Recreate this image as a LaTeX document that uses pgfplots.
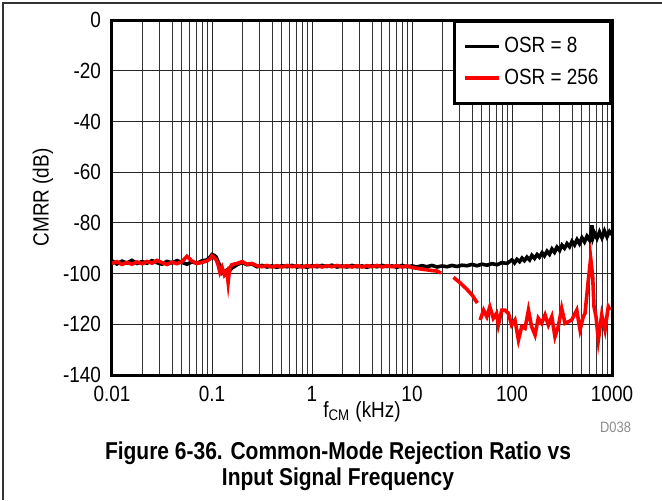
\documentclass[border=0pt]{standalone}
\usepackage{fontspec}
\setmainfont{Liberation Sans}[FakeStretch=0.86]
\usepackage{pgfplots}
\pgfplotsset{compat=1.18}
\definecolor{osrred}{RGB}{255,0,0}
\begin{document}
\begin{tikzpicture}
\path[use as bounding box] (-56pt,-62.5pt) rectangle (275pt,187.5pt);
\draw[line width=0.75pt, black!80] (-54.5pt,-62.5pt) -- (-54.5pt,186pt) -- (275pt,186pt);
\begin{axis}[
  at={(0,0)}, anchor=south west,
  scale only axis,
  width=250pt, height=177.5pt,
  xmode=log,
  xmin=0.01, xmax=1000,
  ymin=-140, ymax=0,
  xtick={0.01,0.1,1,10,100,1000},
  xticklabels={0.01,0.1,1,10,100,1000},
  ytick={-140,-120,-100,-80,-60,-40,-20,0},
  yticklabels={-140,-120,-100,-80,-60,-40,-20,0},
  major tick length=0pt, minor tick length=0pt,
  xmajorgrids, xminorgrids, ymajorgrids,
  major grid style={black!85, line width=0.5pt},
  minor grid style={black!80, line width=0.5pt},
  axis line style={line width=1.5pt},
  font=\fontsize{11}{13}\selectfont,
  /pgf/number format/assume math mode=true,
  xticklabel style={yshift=-2pt},
  yticklabel style={xshift=-2pt},
  xlabel={f\textsubscript{CM} (kHz)},
  ylabel={CMRR (dB)},
  xlabel style={at={(axis description cs:0.5,-0.104)}, anchor=center},
  ylabel style={at={(axis description cs:-0.138,0.5)}, anchor=center},
  unbounded coords=jump,
  legend cell align=left,
  legend image code/.code={\draw[#1] (0pt,0pt) -- (17pt,0pt);},
  legend style={at={(1,1)}, anchor=north east, draw=black, line width=1.5pt,
    inner xsep=4pt, inner ysep=6pt, row sep=2.5pt,
    font=\fontsize{11}{13}\selectfont},
]
\addplot[black, line width=1.8pt] coordinates {
(0.01,-95.0) (0.0112,-96.2) (0.0126,-95.1) (0.0141,-95.9) (0.0158,-94.8)
(0.0178,-96.0) (0.02,-95.3) (0.0224,-95.9) (0.0251,-94.9) (0.0282,-95.7)
(0.0316,-96.3) (0.0355,-95.2) (0.0398,-95.8) (0.0447,-94.9) (0.0501,-95.6)
(0.0562,-96.3) (0.0631,-95.4) (0.0708,-95.9) (0.0794,-95.0) (0.0891,-94.6)
(0.0955,-93.5) (0.1,-92.5) (0.105,-92.8) (0.11,-93.5) (0.12,-97.0)
(0.126,-99.8) (0.133,-99.2) (0.141,-98.6) (0.15,-98.9) (0.158,-97.8)
(0.178,-96.5) (0.2,-95.6) (0.224,-96.5) (0.251,-96.2) (0.282,-97.3)
(0.316,-96.8) (0.355,-97.4) (0.398,-97.0) (0.447,-97.5) (0.501,-96.9)
(0.562,-97.3) (0.631,-96.8) (0.708,-97.4) (0.794,-97.0) (0.891,-97.5)
(1,-96.9) (1.12,-97.3) (1.26,-96.8) (1.41,-97.2) (1.58,-96.7)
(1.78,-97.4) (2.0,-97.0) (2.24,-97.4) (2.51,-96.8) (2.82,-97.3)
(3.16,-97.0) (3.55,-97.5) (3.98,-96.9) (4.47,-97.3) (5.01,-96.8)
(5.62,-97.2) (6.31,-97.0) (7.08,-97.5) (7.94,-96.8) (8.91,-97.3)
(10,-97.0) (11.2,-97.4) (12.6,-96.9) (14.1,-97.3) (15.8,-96.8)
(17.8,-97.4) (20,-97.0) (22.4,-97.3) (25.1,-96.8) (28.2,-97.2)
(31.6,-96.7) (35.5,-96.9) (39.8,-96.4) (44.7,-96.9) (50.1,-96.3)
(56.2,-96.7) (63.1,-96.1) (70.8,-96.5) (79.4,-95.7) (89.1,-96.0)
(100,-94.6) (106,-95.8) (112,-94.4) (119,-95.3) (126,-93.9)
(133,-94.9) (141,-93.5) (150,-94.6) (158,-92.8) (168,-94.0)
(178,-92.5) (188,-93.5) (200,-91.8) (211,-93.0) (224,-91.2)
(237,-92.4) (251,-90.3) (266,-91.6) (282,-89.6) (299,-90.9)
(316,-88.8) (335,-90.0) (355,-88.2) (376,-89.4) (398,-87.3)
(422,-88.7) (447,-86.6) (473,-88.2) (501,-85.9) (531,-87.5)
(562,-85.3) (596,-86.8) (620,-83.5) (631,-81.0) (645,-85.8)
(668,-84.0) (708,-86.1) (750,-83.6) (794,-85.9) (841,-83.2)
(891,-85.5) (944,-83.4) (1000,-84.6)
};
\addlegendentry{OSR = 8}
\addplot[osrred, line width=1.8pt] coordinates {
(0.01,-96.0) (0.0112,-95.3) (0.0126,-96.4) (0.0141,-95.6) (0.0158,-96.3)
(0.0178,-95.4) (0.02,-96.1) (0.0224,-95.2) (0.0251,-95.9) (0.0282,-94.8)
(0.0316,-95.7) (0.0355,-96.4) (0.0398,-95.5) (0.0447,-96.1) (0.0501,-95.3)
(0.0562,-93.2) (0.0631,-95.1) (0.0708,-96.0) (0.0794,-95.6) (0.0891,-95.0)
(0.0955,-94.2) (0.1,-93.0) (0.11,-94.5) (0.115,-96.5) (0.12,-99.5)
(0.126,-97.5) (0.133,-100.5) (0.141,-99.0) (0.145,-103.4) (0.15,-98.0)
(0.158,-96.5) (0.178,-96.0) (0.2,-95.3) (0.224,-96.3) (0.251,-96.0)
(0.282,-96.9) (0.316,-97.3) (0.355,-96.8) (0.398,-97.4) (0.447,-96.9)
(0.501,-97.4) (0.562,-96.8) (0.631,-97.3) (0.708,-96.9) (0.794,-97.4)
(0.891,-96.9) (1,-97.3) (1.12,-96.8) (1.26,-97.4) (1.41,-96.9)
(1.58,-97.3) (1.78,-96.8) (2.0,-97.3) (2.24,-96.9) (2.51,-97.4)
(2.82,-96.9) (3.16,-97.4) (3.55,-96.9) (3.98,-97.3) (4.47,-96.8)
(5.01,-97.4) (5.62,-96.9) (6.31,-97.3) (7.08,-96.9) (7.94,-97.4)
(8.91,-97.0) (10,-97.6) (11.2,-97.9) (12.6,-98.3) (14.1,-98.5)
(15.8,-98.8) (17.8,-99.0) (19.5,-99.8) (22,nan)
(26,-101.5) (30,-103.5) (35,-106.0) (40,-108.5) (45,-111.6) (46.5,nan)
(48,-118.3) (52,-114.4) (56,-117.0) (60,-113.1) (65,-117.6)
(70,-115.7) (73,-120.3) (79,-114.4) (85,-114.4) (92,-115.7)
(99,-120.3) (107,-118.3) (116,-126.2) (125,-120.9) (135,-121.6)
(146,-114.4) (157,-120.9) (170,-124.2) (183,-117.6) (198,-119.6)
(214,-116.3) (231,-120.3) (250,-117.0) (269,-124.9) (290,-120.9)
(314,-113.7) (339,-119.6) (366,-119.0) (395,-118.3) (444,-114.4)
(479,-122.2) (516,-117.0) (537,-115.7) (580,-102.5) (612,-94.0)
(641,-101.2) (661,-113.1) (692,-117.0) (730,-126.2) (789,-116.3)
(851,-122.2) (918,-113.1) (955,-114.4)
};
\addlegendentry{OSR = 256}
\end{axis}
\node[font=\fontsize{7.5}{9}\selectfont, text=black!45, anchor=east] at (263pt,-26pt) {D038};
\node[font=\bfseries\fontsize{12.2}{13}\selectfont, align=center] at (113pt,-45.5pt)
  {Figure 6-36. Common-Mode Rejection Ratio vs\\Input Signal Frequency};
\end{tikzpicture}
\end{document}
